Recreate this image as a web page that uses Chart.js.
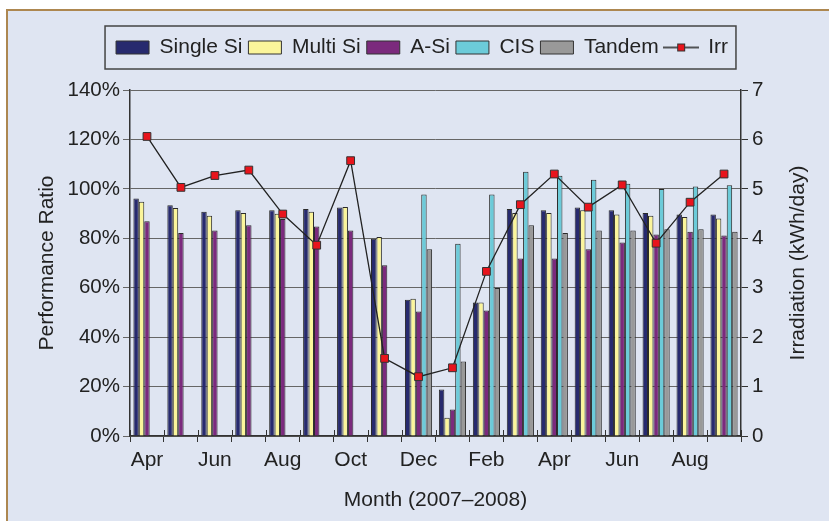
<!DOCTYPE html>
<html>
<head>
<meta charset="utf-8">
<script src="https://cdn.jsdelivr.net/npm/chart.js@4/dist/chart.umd.min.js"></script>
<style>
  body { margin: 0; background: #fff; }
</style>
</head>
<body>
<canvas id="chart" width="829" height="521"></canvas>
<script>
// Apr 2007 .. Sep 2008
const months = ['Apr', 'May', 'Jun', 'Jul', 'Aug', 'Sep', 'Oct', 'Nov', 'Dec', 'Jan', 'Feb', 'Mar',
  'Apr', 'May', 'Jun', 'Jul', 'Aug', 'Sep'];

// performance ratio, %
const singleSi = [96.1, 93.4, 90.7, 91.3, 91.3, 91.8, 92.5, 79.8, 55.1, 18.8, 54.0, 91.8, 91.3, 92.5, 91.3, 90.2, 89.6, 89.6];
const multiSi = [94.8, 92.3, 89.1, 90.2, 89.9, 90.7, 92.7, 80.5, 55.5, 7.4, 54.0, 90.2, 90.2, 91.3, 89.6, 89.1, 88.6, 88.0];
const aSi = [86.9, 82.1, 83.2, 85.3, 87.8, 84.8, 83.2, 69.1, 50.4, 10.7, 50.8, 71.8, 71.8, 75.6, 78.3, 81.5, 82.6, 81.1];
const cis = [null, null, null, null, null, null, null, null, 97.7, 77.8, 97.7, 106.9, 105.3, 103.7, 102.1, 99.9, 101.0, 101.5];
const tandem = [null, null, null, null, null, null, null, null, 75.6, 30.1, 59.9, 85.3, 82.1, 83.2, 83.2, 83.7, 83.7, 82.6];

// irradiation, kWh/day
const irr = [6.06, 5.03, 5.27, 5.38, 4.49, 3.86, 5.57, 1.57, 1.20, 1.38, 3.33, 4.68, 5.30, 4.63, 5.08, 3.90, 4.73, 5.30];

const prTicks = [0, 20, 40, 60, 80, 100, 120, 140];
const irrTicks = [0, 1, 2, 3, 4, 5, 6, 7];

Chart.defaults.font.family = "'Liberation Sans', Arial, sans-serif";
Chart.defaults.font.size = 21;
Chart.defaults.color = '#222';

// little icon for the Irr legend entry: line with a red square
const irrIcon = document.createElement('canvas');
irrIcon.width = 36;
irrIcon.height = 12;
const ic = irrIcon.getContext('2d');
ic.strokeStyle = '#222';
ic.lineWidth = 1.5;
ic.beginPath();
ic.moveTo(0, 6);
ic.lineTo(36, 6);
ic.stroke();
ic.fillStyle = '#e8141c';
ic.fillRect(14, 2, 8, 8);
ic.strokeStyle = '#333';
ic.lineWidth = 1;
ic.strokeRect(14.5, 2.5, 7, 7);

const frame = {
  id: 'frame',
  beforeDraw(chart) {
    const ctx = chart.ctx;
    ctx.save();
    ctx.fillStyle = '#fff';
    ctx.fillRect(0, 0, chart.width, chart.height);
    ctx.fillStyle = '#dfe5f2';
    ctx.fillRect(6, 9, chart.width - 6, chart.height - 9);
    ctx.fillStyle = '#ad8750';
    ctx.fillRect(6, 9, chart.width - 6, 2);
    ctx.fillRect(6, 9, 2, chart.height - 9);
    ctx.restore();
  }
};

const legendBox = {
  id: 'legendBox',
  beforeInit(chart) {
    const fit = chart.legend.fit;
    chart.legend.fit = function () {
      fit.call(this);
      this.height = 59;
    };
  },
  afterDraw(chart) {
    const boxes = chart.legend.legendHitBoxes;
    if (!boxes || !boxes.length) return;
    const first = boxes[0];
    const last = boxes[boxes.length - 1];
    const ctx = chart.ctx;
    ctx.save();
    ctx.strokeStyle = '#444';
    ctx.lineWidth = 1.5;
    ctx.strokeRect(first.left - 11, 26, last.left + last.width + 8 - (first.left - 11), 43);
    ctx.restore();
  }
};

// inner half of the cross ticks on the month axis,
// and the right axis title, which reads bottom-to-top like the left one
const axisExtras = {
  id: 'axisExtras',
  afterDraw(chart) {
    const x = chart.scales.x;
    const step = (x.right - x.left) / months.length;
    const ctx = chart.ctx;
    ctx.save();
    ctx.strokeStyle = '#333';
    ctx.lineWidth = 1;
    for (let i = 0; i <= months.length; i++) {
      const px = Math.round(x.left + i * step) + 0.5;
      ctx.beginPath();
      ctx.moveTo(px, x.top - 6);
      ctx.lineTo(px, x.top);
      ctx.stroke();
    }
    const area = chart.chartArea;
    ctx.translate(798, (area.top + area.bottom) / 2);
    ctx.rotate(-Math.PI / 2);
    ctx.fillStyle = '#222';
    ctx.font = "21px 'Liberation Sans', Arial, sans-serif";
    ctx.textAlign = 'center';
    ctx.textBaseline = 'middle';
    ctx.fillText('Irradiation (kWh/day)', 0, 0);
    ctx.restore();
  }
};

const barStyle = {
  yAxisID: 'y',
  order: 1,
  borderColor: '#2a2a2a',
  borderWidth: 1,
  categoryPercentage: 0.8,
  barPercentage: 1.0
};

new Chart(document.getElementById('chart'), {
  type: 'bar',
  data: {
    labels: months,
    datasets: [
      { ...barStyle, label: 'Single Si', data: singleSi, backgroundColor: '#272a6e' },
      { ...barStyle, label: 'Multi Si', data: multiSi, backgroundColor: '#fbf59b' },
      { ...barStyle, label: 'A-Si', data: aSi, backgroundColor: '#7b2a7d' },
      { ...barStyle, label: 'CIS', data: cis, backgroundColor: '#6ccbd9' },
      { ...barStyle, label: 'Tandem', data: tandem, backgroundColor: '#999999' },
      {
        type: 'line',
        label: 'Irr',
        data: irr,
        yAxisID: 'y1',
        order: 0,
        borderColor: '#222',
        borderWidth: 1.3,
        tension: 0,
        pointStyle: 'rect',
        pointRadius: 5.5,
        pointBackgroundColor: '#e8141c',
        pointBorderColor: '#333',
        pointBorderWidth: 1
      }
    ]
  },
  options: {
    responsive: false,
    animation: false,
    layout: { padding: { top: 31, left: 30, right: 15, bottom: 0 } },
    plugins: {
      tooltip: { enabled: false },
      legend: {
        position: 'top',
        labels: {
          usePointStyle: true,
          pointStyleWidth: 33,
          boxHeight: 13,
          padding: 6,
          font: { size: 21 },
          generateLabels(chart) {
            return chart.data.datasets.map((ds, i) => ({
              text: ds.label,
              datasetIndex: i,
              fillStyle: ds.backgroundColor,
              strokeStyle: '#333',
              lineWidth: 1,
              pointStyle: ds.type === 'line' ? irrIcon : 'rect',
              fontColor: '#222',
              hidden: false
            }));
          }
        }
      }
    },
    scales: {
      x: {
        offset: true,
        grid: { offset: true, drawOnChartArea: false, tickLength: 6, color: '#333' },
        border: { color: '#333', width: 1.5 },
        ticks: {
          autoSkip: false,
          maxRotation: 0,
          padding: 6,
          font: { size: 21 },
          callback(value, index) {
            return index % 2 === 0 ? months[index] : '';
          }
        },
        title: { display: true, text: 'Month (2007–2008)', font: { size: 21 }, padding: { top: 4, bottom: 8 } },
        afterFit(scale) { scale.height = 85; }
      },
      y: {
        position: 'left',
        min: prTicks[0],
        max: prTicks[prTicks.length - 1],
        afterBuildTicks(scale) { scale.ticks = prTicks.map(v => ({ value: v })); },
        ticks: { padding: 3, font: { size: 20.5 }, callback: v => v + '%' },
        grid: { color: '#666', tickLength: 7 },
        border: { color: '#333', width: 1.5 },
        title: { display: true, text: 'Performance Ratio', font: { size: 21 }, padding: { top: 5 } },
        afterFit(scale) { scale.width = 100; }
      },
      y1: {
        position: 'right',
        min: irrTicks[0],
        max: irrTicks[irrTicks.length - 1],
        afterBuildTicks(scale) { scale.ticks = irrTicks.map(v => ({ value: v })); },
        ticks: { padding: 4, font: { size: 20.5 } },
        grid: { drawOnChartArea: false, tickLength: 7, color: '#333' },
        border: { color: '#333', width: 1.5 },
        title: { display: false },
        afterFit(scale) { scale.width = 73; }
      }
    }
  },
  plugins: [frame, legendBox, axisExtras]
});
</script>
</body>
</html>
